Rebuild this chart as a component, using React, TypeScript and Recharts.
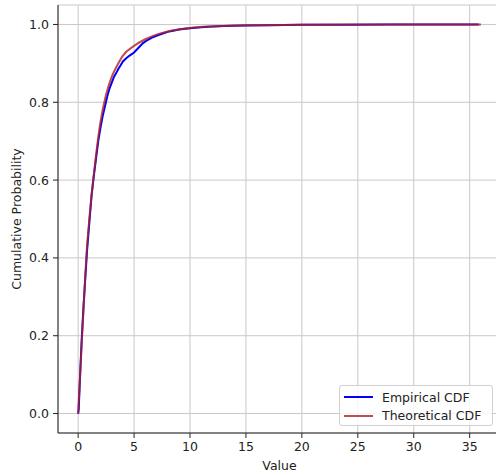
import React from 'react';
import {
  CartesianGrid,
  Line,
  LineChart,
  XAxis,
  YAxis,
  Legend,
} from 'recharts';

// empirical CDF (sorted sample)
const empX = [0, 0.05, 0.15, 0.3, 0.45, 0.6, 0.8, 1.0, 1.2, 1.4, 1.6, 1.8, 2.0, 2.2, 2.4, 2.6, 2.8, 3.0, 3.2, 3.4, 3.6, 3.8, 4.0, 4.3, 4.6, 5.0, 5.4, 5.8, 6.2, 6.6, 7.0, 7.5, 8.0, 8.5, 9.0, 10, 11, 12, 13, 15, 17, 20, 24, 28, 32, 35.8];
const empY = [0, 0.01, 0.08, 0.18, 0.26, 0.33, 0.42, 0.49, 0.56, 0.61, 0.655, 0.7, 0.735, 0.765, 0.79, 0.815, 0.835, 0.85, 0.865, 0.875, 0.886, 0.895, 0.905, 0.913, 0.92, 0.928, 0.94, 0.952, 0.96, 0.966, 0.971, 0.976, 0.981, 0.984, 0.987, 0.99, 0.993, 0.995, 0.996, 0.997, 0.998, 0.999, 0.9995, 1, 1, 1];

// theoretical CDF
const theoX = [0, 0.25, 0.5, 0.75, 1, 1.25, 1.5, 2, 2.5, 3, 3.5, 4, 5, 6, 7, 8, 10, 12, 15, 20, 25, 30, 36];
const theoY = [0, 0.14, 0.28, 0.41, 0.5, 0.575, 0.64, 0.75, 0.82, 0.865, 0.895, 0.92, 0.945, 0.962, 0.974, 0.982, 0.991, 0.995, 0.998, 0.999, 1, 1, 1];

const xTicks = [0, 5, 10, 15, 20, 25, 30, 35];
const yTicks = [0, 0.2, 0.4, 0.6, 0.8, 1.0];

const seriesNames = ['Empirical CDF', 'Theoretical CDF'];

// matplotlib-style 5% padding; the right part of the figure is cropped away
const xDomain = [-1.8, 37.8];
const yDomain = [-0.05, 1.05];

const font = '"DejaVu Sans", sans-serif';
const tickStyle = { fontSize: 12.5, fill: '#222', fontFamily: font };

const empData = empX.map((x, i) => ({ x, y: empY[i] }));
const theoData = theoX.map((x, i) => ({ x, y: theoY[i] }));

const LegendBox = () => (
  <div
    style={{
      width: 154,
      height: 41,
      border: '1px solid #d0d0d0',
      borderRadius: 3,
      background: 'rgba(255,255,255,0.8)',
      fontFamily: font,
      fontSize: 12.5,
      color: '#222',
      boxSizing: 'border-box',
      paddingTop: 2,
    }}
  >
    {seriesNames.map((name, i) => (
      <div key={name} style={{ display: 'flex', alignItems: 'center', height: 18.5 }}>
        <svg width={42} height={10} style={{ flex: 'none' }}>
          <line
            x1={4}
            x2={33}
            y1={5}
            y2={5}
            stroke={i === 0 ? '#0000ff' : '#b22222'}
            strokeOpacity={i === 0 ? 1 : 0.8}
            strokeWidth={2}
          />
        </svg>
        <span>{name}</span>
      </div>
    ))}
  </div>
);

export default function App() {
  return (
    <div style={{ position: 'fixed', left: 0, top: 0, width: 496, height: 473, overflow: 'hidden', background: '#fff' }}>
      <style>{'html,body{margin:0;overflow:hidden}'}</style>
      <LineChart width={520} height={473} margin={{ top: 5, right: 19, left: 0, bottom: 0 }}>
        <CartesianGrid stroke="#c8c8c8" strokeWidth={1} />
        {/* top spine */}
        <XAxis
          xAxisId="top"
          orientation="top"
          type="number"
          domain={xDomain}
          allowDataOverflow
          height={0}
          tick={false}
          tickLine={false}
          stroke="#222"
        />
        <XAxis
          type="number"
          dataKey="x"
          domain={xDomain}
          ticks={xTicks}
          allowDataOverflow
          height={40}
          tickSize={5}
          tickMargin={4}
          tick={tickStyle}
          stroke="#222"
          label={{ value: 'Value', position: 'insideBottom', offset: 3, style: tickStyle }}
        />
        <YAxis
          type="number"
          domain={yDomain}
          ticks={yTicks}
          allowDataOverflow
          width={58}
          tickSize={5}
          tickMargin={4}
          tick={tickStyle}
          stroke="#222"
          tickFormatter={(v: number) => v.toFixed(1)}
          label={{
            value: 'Cumulative Probability',
            angle: -90,
            position: 'insideLeft',
            offset: 17,
            style: { ...tickStyle, textAnchor: 'middle' },
          }}
        />
        <Line
          data={empData}
          dataKey="y"
          name={seriesNames[0]}
          type="linear"
          stroke="#0000ff"
          strokeWidth={2}
          dot={false}
          isAnimationActive={false}
        />
        <Line
          data={theoData}
          dataKey="y"
          name={seriesNames[1]}
          type="monotone"
          stroke="#b22222"
          strokeOpacity={0.8}
          strokeWidth={2}
          dot={false}
          isAnimationActive={false}
        />
        <Legend
          layout="vertical"
          align="center"
          verticalAlign="middle"
          content={() => <LegendBox />}
          wrapperStyle={{ left: 339, top: 385, width: 154 }}
        />
      </LineChart>
    </div>
  );
}
